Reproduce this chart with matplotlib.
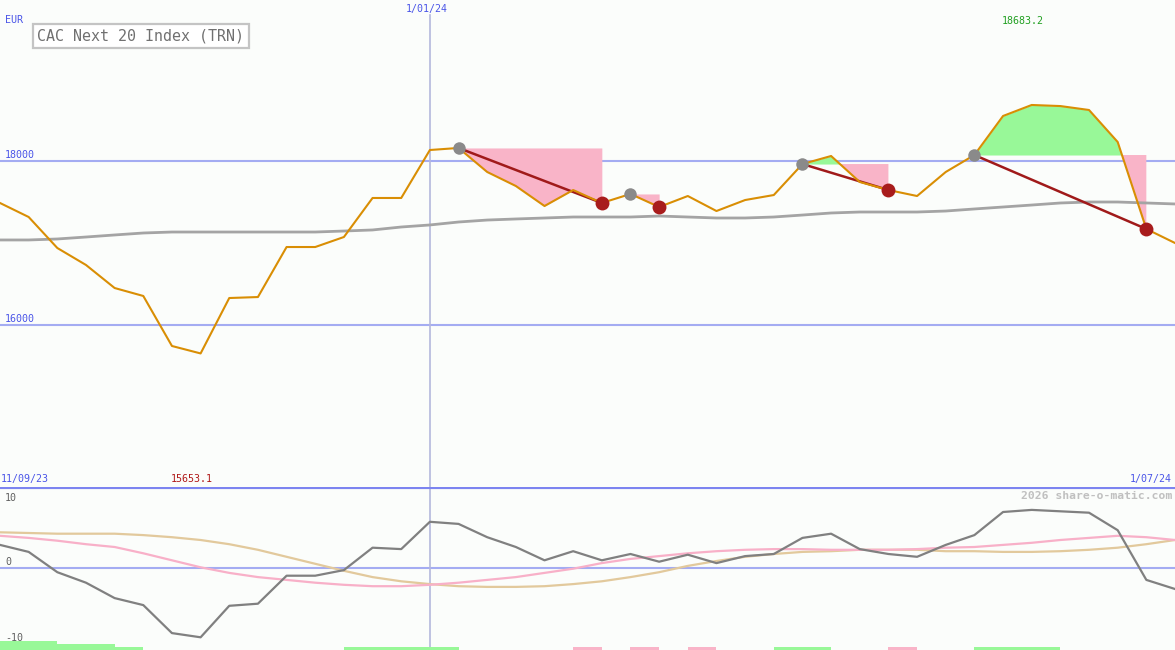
import matplotlib
matplotlib.use("Agg")
import matplotlib.pyplot as plt
from matplotlib.transforms import blended_transform_factory

# weekly closes, index 0 = first week shown
price = [17488, 17317, 16939, 16732, 16451, 16354, 15744, 15653.1, 16329, 16341,
         16951, 16951, 17073, 17549, 17549, 18134, 18159, 17866, 17695, 17451,
         17646, 17488, 17598, 17439, 17573, 17390, 17524, 17585, 17963, 18061,
         17744, 17646, 17573, 17866, 18073, 18549, 18683.2, 18670, 18622, 18232,
         17171, 17000]
moving_avg = [17037, 17037, 17049, 17073, 17098, 17122, 17134, 17134, 17134, 17134,
              17134, 17134, 17146, 17159, 17195, 17220, 17256, 17280, 17293, 17305,
              17317, 17317, 17317, 17329, 17317, 17305, 17305, 17317, 17341, 17366,
              17378, 17378, 17378, 17390, 17415, 17439, 17463, 17488, 17500, 17500,
              17488, 17476]

# (peak index, exit index)
signals = [(16, 21), (22, 23), (28, 31), (34, 40)]
drawn_links = [True, False, True, True]

osc_gray = [3.3, 2.3, -0.6, -2.1, -4.3, -5.3, -9.3, -9.9, -5.4, -5.1,
            -1.1, -1.1, -0.3, 2.9, 2.7, 6.6, 6.3, 4.4, 3.0, 1.1,
            2.4, 1.1, 2.0, 0.9, 1.9, 0.7, 1.7, 2.0, 4.3, 4.9,
            2.7, 2.0, 1.6, 3.3, 4.7, 8.0, 8.3, 8.1, 7.9, 5.4,
            -1.7, -3.0]
osc_pink = [4.6, 4.3, 3.9, 3.4, 3.0, 2.1, 1.1, 0.1, -0.7, -1.3,
            -1.7, -2.1, -2.4, -2.6, -2.6, -2.4, -2.1, -1.7, -1.3, -0.7,
            -0.1, 0.7, 1.3, 1.7, 2.1, 2.4, 2.6, 2.7, 2.7, 2.6,
            2.6, 2.6, 2.7, 2.9, 3.0, 3.3, 3.6, 4.0, 4.3, 4.6,
            4.4, 4.0]
osc_tan = [5.1, 5.0, 4.9, 4.9, 4.9, 4.7, 4.4, 4.0, 3.4, 2.6,
           1.6, 0.6, -0.4, -1.3, -1.9, -2.3, -2.6, -2.7, -2.7, -2.6,
           -2.3, -1.9, -1.3, -0.6, 0.3, 1.0, 1.6, 2.0, 2.3, 2.4,
           2.6, 2.6, 2.6, 2.4, 2.4, 2.3, 2.3, 2.4, 2.6, 2.9,
           3.4, 4.0]

# strength bars along the bottom: (start, end, kind, level)
strength_bars = [(0, 2, "up", 3), (2, 4, "up", 2), (4, 5, "up", 1), (12, 16, "up", 1),
                 (20, 21, "down", 1), (22, 23, "down", 1), (24, 25, "down", 1),
                 (27, 29, "up", 1), (31, 32, "down", 1), (34, 37, "up", 1)]

price_grid = [18000, 16000]
osc_labels = [(10, "10"), (0, "0"), (-10, "-10")]
start_label, mid_label, end_label = "11/09/23", "1/01/24", "1/07/24"
mid_index = 15

BG = "#fbfdfb"
ORANGE = "#d98e04"
PINK = "#f9b4c8"
GREEN = "#98f898"
GRID = "#a4acf2"
BLUE_TXT = "#4a55e8"
MONO = "DejaVu Sans Mono"

W, H = 1175, 650
fig = plt.figure(figsize=(W / 100, H / 100), dpi=100, facecolor=BG)
main_h = 487
ax = fig.add_axes([0, (H - main_h) / H, 1, main_h / H])
ax2 = fig.add_axes([0, 0, 1, (H - main_h) / H])
for a in (ax, ax2):
    a.set_facecolor(BG)
    a.set_axis_off()

x = list(range(len(price)))
n = len(price) - 1

# main panel scale: 18000 at y=161, 16000 at y=325
per_px = 2000 / 164
ax.set_xlim(0, n)
ax.set_ylim(18000 - (main_h - 161) * per_px, 18000 + 161 * per_px)

for lvl in price_grid:
    ax.axhline(lvl, color=GRID, lw=1.5, zorder=1)
ax.axvline(mid_index, ymax=(main_h - 15) / main_h, color="#b4b8dc", lw=1.2, zorder=1)

for (a, b) in signals:
    xs = x[a:b + 1]
    ys = price[a:b + 1]
    lvl = price[a]
    ax.fill_between(xs, ys, lvl, where=[v <= lvl for v in ys], interpolate=True,
                    color=PINK, lw=0, zorder=2)
    ax.fill_between(xs, ys, lvl, where=[v >= lvl for v in ys], interpolate=True,
                    color=GREEN, lw=0, zorder=2)

ax.plot(x, moving_avg, color="#a4a4a4", lw=2.0, zorder=3)
for (a, b), drawn in zip(signals, drawn_links):
    if drawn:
        ax.plot([a, b], [price[a], price[b]], color="#a01a1a", lw=1.8, zorder=4)
ax.plot(x, price, color=ORANGE, lw=1.5, zorder=5)
for (a, b) in signals:
    ax.plot(a, price[a], "o", ms=9, color="#8a8a8a", mec="none", zorder=6)
    ax.plot(b, price[b], "o", ms=10, color="#a81c1c", mec="none", zorder=6)

# lower panel: 0 at y=568, 7 px per unit
upx = 7.0
ax2.set_xlim(0, n)
lo = -(H - 568) / upx
ax2.set_ylim(lo, (568 - main_h) / upx)
ax2.axhline(0, color=GRID, lw=1.5, zorder=1)
ax2.axhline((568 - main_h) / upx, color="#7c84f0", lw=3, zorder=6)
ax2.axvline(mid_index, color="#b4b8dc", lw=1.2, zorder=1)
ax2.plot(x, osc_tan, color="#e2c99c", lw=1.6, zorder=2)
ax2.plot(x, osc_pink, color="#f8b0c8", lw=1.6, zorder=2)
ax2.plot(x, osc_gray, color="#808080", lw=1.6, zorder=3)
for s, e, kind, level in strength_bars:
    ax2.bar(s, level * 3 / upx, width=e - s, bottom=lo, align="edge",
            color=GREEN if kind == "up" else PINK, lw=0, zorder=4)


def px(xp, yp):
    return xp / W, 1 - yp / H


fig.text(*px(5, 20), "EUR", color=BLUE_TXT, fontsize=7.2, family=MONO, va="center")
for lvl in price_grid:
    yp = 161 + (18000 - lvl) / per_px
    fig.text(*px(5, yp - 6), str(lvl), color=BLUE_TXT, fontsize=7.2, family=MONO, va="center")
fig.text(*px(37, 36), "CAC Next 20 Index (TRN)", color="#707070", fontsize=10.8,
         family=MONO, va="center",
         bbox=dict(boxstyle="square,pad=0.3", fc="white", ec="#c4c4c4", lw=1.6))

tr = blended_transform_factory(ax.transData, fig.transFigure)
fig.text(mid_index - 0.1, 1 - 9 / H, mid_label, transform=tr, ha="center", va="center",
         color=BLUE_TXT, fontsize=7.2, family=MONO)
imax = price.index(max(price))
imin = price.index(min(price))
fig.text(imax - 0.3, 1 - 21 / H, f"{max(price):.1f}", transform=tr, ha="center",
         va="center", color="#22a022", fontsize=7.2, family=MONO)
fig.text(imin - 0.3, 1 - 479 / H, f"{min(price):.1f}", transform=tr, ha="center",
         va="center", color="#b01818", fontsize=7.2, family=MONO)
fig.text(*px(1, 479), start_label, color=BLUE_TXT, fontsize=7.2, family=MONO, va="center")
fig.text(*px(1172, 479), end_label, color=BLUE_TXT, fontsize=7.2, family=MONO,
         va="center", ha="right")
fig.text(*px(1172, 496), "2026 share-o-matic.com", color="#c0c0c0", fontsize=8.2,
         family=MONO, weight="bold", va="center", ha="right")
for val, lab in osc_labels:
    yp = 568 - val * upx - (6 if val == 0 else 0)
    fig.text(*px(5, yp), lab, color="#606060", fontsize=7.2, family=MONO, va="center")

fig.savefig("out.png", dpi=100, facecolor=BG)
